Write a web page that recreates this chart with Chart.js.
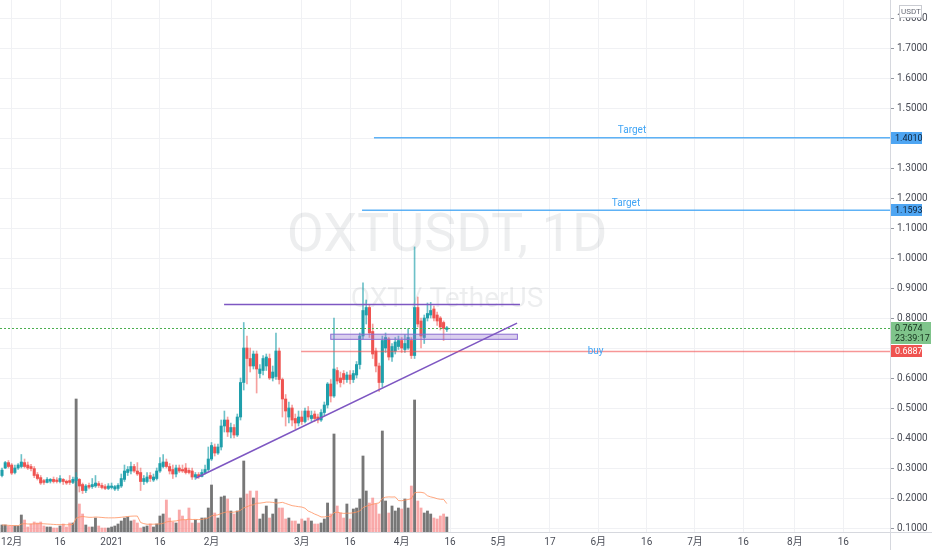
<!DOCTYPE html>
<html>
<head>
<meta charset="utf-8">
<script src="https://cdn.jsdelivr.net/npm/chart.js@4.4.1/dist/chart.umd.min.js"></script>
<style>
  html, body { margin: 0; padding: 0; background: #fff; overflow: hidden; }
</style>
</head>
<body>
<canvas id="chart" width="932" height="550"></canvas>
<script>
// OXT/USDT daily candles, day 0 = 2020-11-28, last day = 2021-04-15
const opens = [
  0.275, 0.30, 0.318, 0.31, 0.285, 0.30, 0.305, 0.318, 0.31, 0.305,
  0.298, 0.278, 0.268, 0.258, 0.252, 0.256, 0.262, 0.26, 0.255, 0.262,
  0.256, 0.258, 0.252, 0.258, 0.262, 0.245, 0.225, 0.242, 0.238, 0.24,
  0.248, 0.242, 0.238, 0.232, 0.235, 0.23, 0.232, 0.24, 0.262, 0.285,
  0.29, 0.305, 0.29, 0.285, 0.255, 0.255, 0.275, 0.26, 0.265, 0.29,
  0.305, 0.32, 0.305, 0.295, 0.28, 0.30, 0.295, 0.30, 0.292, 0.29,
  0.27, 0.278, 0.272, 0.285, 0.295, 0.33, 0.37, 0.35, 0.37, 0.44,
  0.46, 0.42, 0.435, 0.41, 0.47, 0.585, 0.70, 0.665, 0.64, 0.68,
  0.615, 0.625, 0.64, 0.665, 0.60, 0.605, 0.69, 0.595, 0.53, 0.47,
  0.50, 0.465, 0.45, 0.47, 0.455, 0.49, 0.465, 0.48, 0.47, 0.46,
  0.485, 0.51, 0.58, 0.54, 0.625, 0.60, 0.615, 0.595, 0.61, 0.595,
  0.61, 0.645, 0.74, 0.81, 0.835, 0.755, 0.69, 0.64, 0.585, 0.70,
  0.73, 0.67, 0.69, 0.705, 0.725, 0.695, 0.70, 0.725, 0.675, 0.835,
  0.79, 0.735, 0.80, 0.81, 0.83, 0.81, 0.80, 0.785, 0.762
];
const highs = [
  0.30, 0.322, 0.325, 0.315, 0.31, 0.315, 0.345, 0.33, 0.32, 0.312,
  0.305, 0.285, 0.275, 0.262, 0.268, 0.265, 0.27, 0.268, 0.275, 0.265,
  0.26, 0.275, 0.27, 0.285, 0.265, 0.25, 0.245, 0.25, 0.265, 0.275,
  0.255, 0.25, 0.245, 0.248, 0.25, 0.242, 0.248, 0.28, 0.31, 0.305,
  0.32, 0.312, 0.318, 0.30, 0.275, 0.285, 0.285, 0.28, 0.30, 0.335,
  0.345, 0.33, 0.315, 0.31, 0.31, 0.31, 0.31, 0.315, 0.30, 0.30,
  0.285, 0.285, 0.295, 0.31, 0.37, 0.385, 0.38, 0.38, 0.46, 0.49,
  0.47, 0.45, 0.445, 0.48, 0.60, 0.785, 0.74, 0.70, 0.69, 0.69,
  0.645, 0.675, 0.68, 0.68, 0.64, 0.75, 0.70, 0.60, 0.545, 0.52,
  0.51, 0.48, 0.49, 0.49, 0.50, 0.505, 0.49, 0.49, 0.48, 0.495,
  0.52, 0.585, 0.595, 0.80, 0.635, 0.62, 0.625, 0.62, 0.625, 0.625,
  0.655, 0.75, 0.917, 0.86, 0.845, 0.78, 0.70, 0.65, 0.74, 0.75,
  0.735, 0.715, 0.735, 0.74, 0.735, 0.745, 0.765, 0.735, 1.037, 0.87,
  0.80, 0.81, 0.85, 0.852, 0.84, 0.82, 0.805, 0.79, 0.772
];
const lows = [
  0.27, 0.298, 0.30, 0.278, 0.28, 0.295, 0.30, 0.30, 0.295, 0.29,
  0.268, 0.26, 0.245, 0.245, 0.25, 0.25, 0.25, 0.25, 0.25, 0.245,
  0.245, 0.245, 0.248, 0.24, 0.22, 0.215, 0.218, 0.23, 0.232, 0.235,
  0.235, 0.23, 0.228, 0.228, 0.23, 0.225, 0.225, 0.235, 0.255, 0.275,
  0.28, 0.285, 0.275, 0.225, 0.245, 0.25, 0.255, 0.255, 0.26, 0.285,
  0.30, 0.30, 0.28, 0.265, 0.27, 0.285, 0.285, 0.28, 0.28, 0.262,
  0.262, 0.265, 0.27, 0.28, 0.29, 0.325, 0.34, 0.345, 0.36, 0.42,
  0.405, 0.40, 0.40, 0.405, 0.46, 0.56, 0.58, 0.62, 0.63, 0.55,
  0.60, 0.61, 0.625, 0.595, 0.59, 0.595, 0.58, 0.47, 0.44, 0.45,
  0.44, 0.43, 0.44, 0.445, 0.45, 0.46, 0.455, 0.455, 0.45, 0.455,
  0.475, 0.50, 0.52, 0.535, 0.58, 0.57, 0.58, 0.585, 0.58, 0.585,
  0.60, 0.63, 0.73, 0.78, 0.735, 0.665, 0.62, 0.555, 0.57, 0.685,
  0.66, 0.655, 0.68, 0.695, 0.685, 0.685, 0.695, 0.665, 0.665, 0.77,
  0.70, 0.715, 0.79, 0.80, 0.79, 0.775, 0.76, 0.725, 0.755
];
const closes = [
  0.293, 0.318, 0.305, 0.283, 0.30, 0.31, 0.32, 0.305, 0.30, 0.298,
  0.275, 0.265, 0.25, 0.252, 0.262, 0.262, 0.255, 0.255, 0.265, 0.255,
  0.25, 0.252, 0.262, 0.268, 0.24, 0.225, 0.24, 0.236, 0.245, 0.25,
  0.242, 0.235, 0.232, 0.24, 0.24, 0.238, 0.242, 0.265, 0.29, 0.295,
  0.305, 0.29, 0.28, 0.255, 0.265, 0.27, 0.265, 0.27, 0.29, 0.315,
  0.32, 0.305, 0.29, 0.28, 0.30, 0.29, 0.29, 0.285, 0.285, 0.27,
  0.278, 0.272, 0.285, 0.295, 0.33, 0.375, 0.35, 0.37, 0.44, 0.46,
  0.42, 0.435, 0.41, 0.47, 0.585, 0.70, 0.665, 0.64, 0.68, 0.63,
  0.63, 0.665, 0.67, 0.60, 0.62, 0.69, 0.595, 0.53, 0.49, 0.50,
  0.46, 0.45, 0.47, 0.455, 0.49, 0.47, 0.475, 0.465, 0.46, 0.485,
  0.51, 0.58, 0.54, 0.63, 0.59, 0.585, 0.595, 0.61, 0.595, 0.615,
  0.645, 0.74, 0.825, 0.835, 0.75, 0.68, 0.64, 0.585, 0.725, 0.735,
  0.67, 0.705, 0.72, 0.725, 0.70, 0.715, 0.735, 0.675, 0.835, 0.78,
  0.74, 0.80, 0.815, 0.825, 0.80, 0.79, 0.77, 0.765, 0.7674
];
// volume, in 100k OXT
const volumes = [
  7, 7, 6, 6, 6, 6, 17, 12, 5, 8,
  10, 9, 10, 6, 5, 5, 4, 4, 6, 8,
  5, 9, 9, 133, 28, 18, 7, 5, 5, 14,
  6, 4, 4, 4, 5, 6, 8, 11, 14, 15,
  11, 12, 9, 4, 5, 6, 8, 5, 8, 16,
  18, 32, 14, 10, 9, 22, 16, 12, 24, 9,
  12, 9, 14, 14, 24, 47, 19, 14, 35, 36,
  33, 21, 18, 21, 34, 71, 38, 41, 34, 41,
  13, 18, 26, 14, 18, 33, 24, 24, 13, 14,
  11, 11, 8, 13, 11, 14, 11, 8, 8, 9,
  13, 29, 18, 98, 26, 19, 14, 28, 13, 23,
  24, 33, 76, 41, 29, 34, 28, 18, 101, 31,
  19, 26, 21, 24, 23, 33, 24, 46, 132, 31,
  24, 19, 21, 18, 14, 13, 16, 18, 15
];

// time axis: day index of each label, and its text
const tickDays = [3, 18, 34, 49, 65, 93, 108, 124, 139, 154, 170, 185, 200, 215, 230, 246, 261];
const tickLabels = ['12月', '16', '2021', '16', '2月', '3月', '16', '4月', '16', '5月', '17', '6月', '16', '7月', '16', '8月', '16'];
const priceTicks = [0.1, 0.2, 0.3, 0.4, 0.5, 0.6, 0.7, 0.8, 0.9, 1.0, 1.1, 1.2, 1.3, 1.4, 1.5, 1.6, 1.7, 1.8];

// drawings on the chart (day index, price)
const trendLine = [[60.2, 0.267], [159.8, 0.783]];
const resistance = { from: 68.9, to: 160.7, price: 0.845 };
const buyZone = { from: 102, to: 159.9, top: 0.746, bottom: 0.729 };
const buyLine = { from: 92.8, price: 0.6887, text: 'buy' };
const targets = [
  { from: 115.4, price: 1.401, text: 'Target' },
  { from: 111.7, price: 1.1593, text: 'Target' }
];
const lastPrice = 0.7674;
const countdown = '23:39:17';

const UP = '#1f9fab', DOWN = '#ef5350';
const FONT = 'Roboto, "Noto Sans CJK SC", sans-serif';

const isUp = opens.map((o, i) => closes[i] >= o);
const wickData = highs.map((h, i) => ({ x: i, y: [lows[i], h] }));
const bodyData = opens.map((o, i) => ({ x: i, y: [Math.min(o, closes[i]), Math.max(o, closes[i])] }));
const volData = volumes.map((v, i) => ({ x: i, y: v }));
// 20 day moving average of volume
const volMA = volumes.map((v, i) => {
  const part = volumes.slice(Math.max(0, i - 19), i + 1);
  return { x: i, y: part.reduce((a, b) => a + b, 0) / part.length };
});

const drawings = {
  id: 'drawings',
  beforeDatasetsDraw(chart) {
    const { ctx, chartArea: a } = chart;
    const cx = (a.left + a.right) / 2;
    ctx.save();
    ctx.fillStyle = 'rgba(19, 23, 34, 0.075)';
    ctx.textAlign = 'center';
    ctx.textBaseline = 'middle';
    ctx.font = '54px ' + FONT;
    ctx.fillText('OXTUSDT, 1D', cx + 2, 237);
    ctx.font = '28px ' + FONT;
    ctx.fillText('OXT / TetherUS', cx + 2, 300);
    ctx.restore();
  },
  afterDatasetsDraw(chart) {
    const { ctx, chartArea: a, scales } = chart;
    const X = v => scales.x.getPixelForValue(v);
    const Y = v => scales.y.getPixelForValue(v);
    ctx.save();

    // current price dotted line
    ctx.strokeStyle = '#4caf50';
    ctx.lineWidth = 1;
    ctx.setLineDash([2, 2]);
    ctx.beginPath();
    ctx.moveTo(a.left, Math.round(Y(lastPrice)) + 0.5);
    ctx.lineTo(a.right, Math.round(Y(lastPrice)) + 0.5);
    ctx.stroke();
    ctx.setLineDash([]);

    // buy zone
    ctx.fillStyle = 'rgba(149, 117, 205, 0.35)';
    ctx.strokeStyle = '#8a6bd1';
    const zx = X(buyZone.from), zy = Y(buyZone.top);
    ctx.fillRect(zx, zy, X(buyZone.to) - zx, Y(buyZone.bottom) - zy);
    ctx.strokeRect(zx, zy, X(buyZone.to) - zx, Y(buyZone.bottom) - zy);

    // purple lines
    ctx.strokeStyle = '#7e57c2';
    ctx.lineWidth = 1.6;
    ctx.beginPath();
    ctx.moveTo(X(trendLine[0][0]), Y(trendLine[0][1]));
    ctx.lineTo(X(trendLine[1][0]), Y(trendLine[1][1]));
    ctx.moveTo(X(resistance.from), Y(resistance.price));
    ctx.lineTo(X(resistance.to), Y(resistance.price));
    ctx.stroke();

    // horizontal rays
    ctx.font = '10px ' + FONT;
    ctx.textAlign = 'center';
    ctx.lineWidth = 1.5;
    targets.forEach(t => {
      const y = Y(t.price), x0 = X(t.from);
      ctx.strokeStyle = 'rgba(66, 165, 245, 0.85)';
      ctx.beginPath();
      ctx.moveTo(x0, y);
      ctx.lineTo(a.right, y);
      ctx.stroke();
      ctx.fillStyle = '#42a5f5';
      ctx.textBaseline = 'bottom';
      ctx.fillText(t.text, (x0 + a.right) / 2, y - 2);
    });
    const by = Y(buyLine.price), bx = X(buyLine.from);
    ctx.strokeStyle = 'rgba(242, 80, 80, 0.6)';
    ctx.beginPath();
    ctx.moveTo(bx, by);
    ctx.lineTo(a.right, by);
    ctx.stroke();
    ctx.fillStyle = '#42a5f5';
    ctx.textBaseline = 'middle';
    ctx.fillText(buyLine.text, (bx + a.right) / 2, by);
    ctx.restore();
  },
  afterDraw(chart) {
    const { ctx, chartArea: a, scales } = chart;
    const Y = v => scales.y.getPixelForValue(v);
    ctx.save();

    ctx.font = '9px ' + FONT;
    ctx.textBaseline = 'middle';
    ctx.textAlign = 'left';
    const tag = (price, bg, fg, w) => {
      const y = Math.round(Y(price));
      ctx.fillStyle = '#fff';
      ctx.fillRect(a.right + 1, y - 7, chart.width - a.right, 14);
      ctx.fillStyle = bg;
      ctx.fillRect(a.right + 1, y - 6, w, 12);
      ctx.fillStyle = fg;
      ctx.fillText(price.toFixed(4), a.right + 5, y + 0.5);
    };
    tag(targets[0].price, '#4ea5f2', '#10243a', 31);
    tag(targets[1].price, '#4ea5f2', '#10243a', 31);

    // last price with countdown, then the buy level
    const ly = Math.round(Y(lastPrice));
    const ry = Math.round(Y(buyLine.price));
    ctx.fillStyle = '#fff';
    ctx.fillRect(a.right + 1, ly - 7, chart.width - a.right, ry - ly + 14);
    ctx.fillStyle = '#7fc48b';
    ctx.fillRect(a.right + 1, ly - 6, 40, 23);
    ctx.fillStyle = '#14301c';
    ctx.fillText(lastPrice.toFixed(4), a.right + 5, ly + 0.5);
    ctx.fillText(countdown, a.right + 5, ly + 11);

    tag(buyLine.price, '#ef5350', '#ffffff', 31);

    // axis borders
    ctx.strokeStyle = '#d6d8de';
    ctx.lineWidth = 1;
    ctx.beginPath();
    ctx.moveTo(a.right + 0.5, 0);
    ctx.lineTo(a.right + 0.5, chart.height);
    ctx.moveTo(0, a.bottom + 0.5);
    ctx.lineTo(chart.width, a.bottom + 0.5);
    ctx.stroke();

    // currency box
    ctx.fillStyle = '#fff';
    ctx.fillRect(a.right + 9, 5, 23, 13);
    ctx.strokeStyle = '#c9cbd1';
    ctx.strokeRect(a.right + 9.5, 5.5, 22, 12);
    ctx.fillStyle = '#6a6d78';
    ctx.font = '8px ' + FONT;
    ctx.fillText('USDT', a.right + 11, 12);
    ctx.restore();
  }
};

new Chart(document.getElementById('chart'), {
  type: 'bar',
  data: {
    datasets: [
      {
        type: 'line',
        data: volMA,
        yAxisID: 'yv',
        borderColor: 'rgba(255, 145, 95, 0.8)',
        borderWidth: 1,
        pointRadius: 0,
        order: 3
      },
      {
        data: volData,
        yAxisID: 'yv',
        backgroundColor: isUp.map(u => u ? 'rgba(95, 95, 95, 0.85)' : 'rgba(247, 140, 140, 0.75)'),
        barThickness: 2.2,
        grouped: false,
        order: 4
      },
      {
        data: wickData,
        yAxisID: 'y',
        backgroundColor: isUp.map(u => u ? 'rgba(31, 159, 171, 0.65)' : 'rgba(239, 83, 80, 0.55)'),
        barThickness: 1,
        grouped: false,
        order: 2
      },
      {
        data: bodyData,
        yAxisID: 'y',
        backgroundColor: isUp.map(u => u ? UP : DOWN),
        barThickness: 2.4,
        minBarLength: 1,
        grouped: false,
        order: 1
      }
    ]
  },
  options: {
    responsive: false,
    devicePixelRatio: 1,
    animation: false,
    layout: { padding: 0 },
    plugins: { legend: { display: false }, tooltip: { enabled: false } },
    scales: {
      x: {
        type: 'linear',
        min: -0.62,
        max: 275.5,
        offset: false,
        grid: { offset: false, color: '#f0f1f4', drawTicks: false },
        border: { display: false },
        afterBuildTicks: s => { s.ticks = tickDays.map(v => ({ value: v })); },
        afterFit: s => { s.height = 18; s.paddingLeft = 0; s.paddingRight = 0; },
        ticks: {
          autoSkip: false,
          maxRotation: 0,
          padding: 4,
          color: '#4a4d57',
          font: { size: 10, family: FONT },
          callback: (v, i) => tickLabels[i]
        }
      },
      y: {
        type: 'linear',
        position: 'right',
        min: 0.0867,
        max: 1.86,
        grid: { color: '#f0f1f4', tickLength: 4, tickColor: '#9598a1' },
        border: { display: false },
        afterBuildTicks: s => { s.ticks = priceTicks.map(v => ({ value: v })); },
        afterFit: s => { s.width = 42; s.paddingTop = 0; s.paddingBottom = 0; },
        ticks: {
          padding: 3,
          color: '#4a4d57',
          font: { size: 10, family: FONT },
          callback: v => v.toFixed(4)
        }
      },
      yv: {
        type: 'linear',
        display: false,
        min: 0,
        max: 532,
        afterFit: s => { s.paddingTop = 0; s.paddingBottom = 0; }
      }
    }
  },
  plugins: [drawings]
});
</script>
</body>
</html>
